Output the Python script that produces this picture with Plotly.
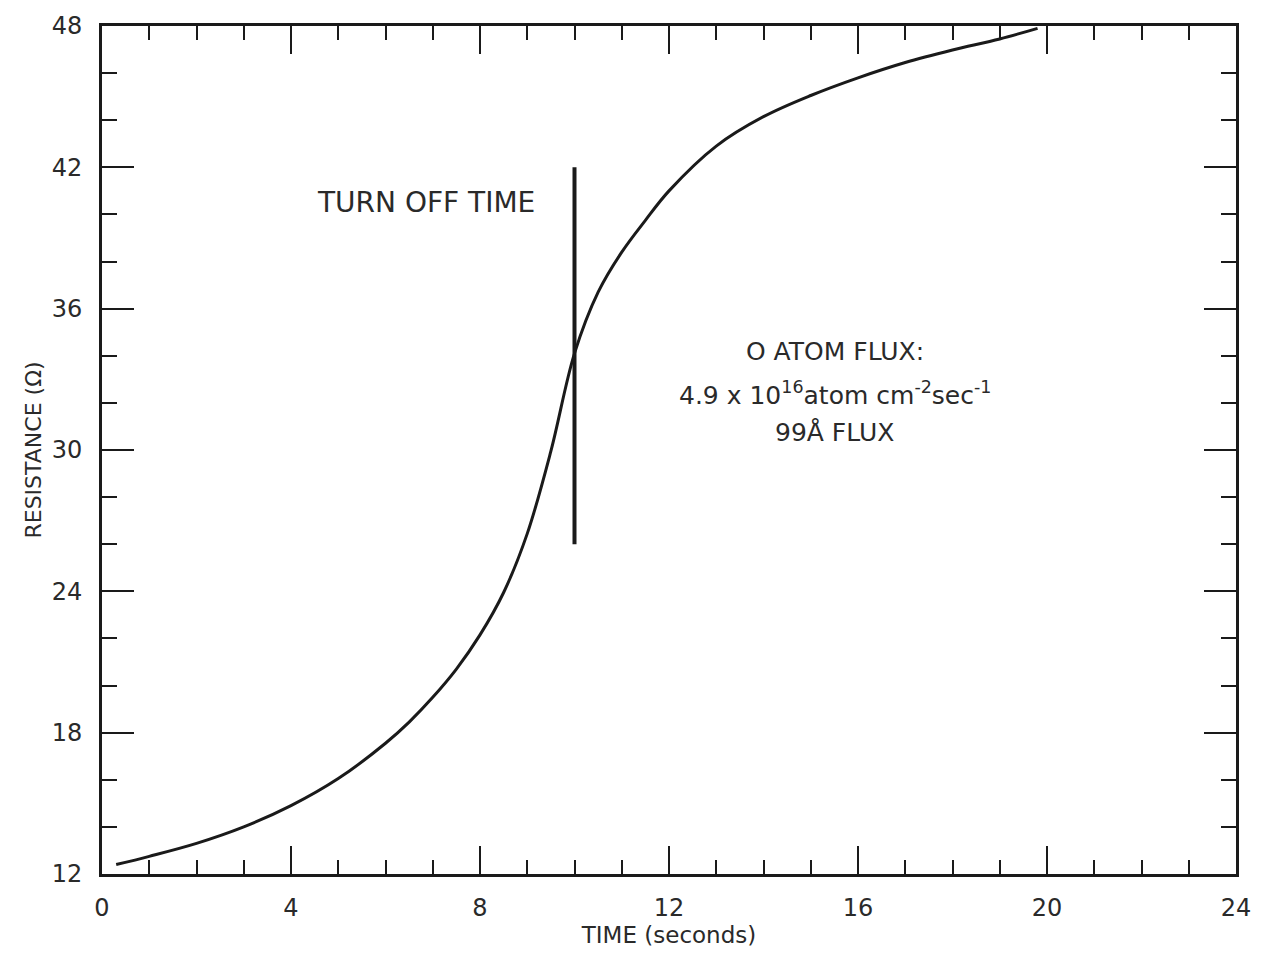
import plotly.graph_objects as go

# Curve data: resistance vs time
time_s = [0.3, 1, 2, 3, 4, 5, 6, 6.5, 7, 7.5, 8, 8.5, 9, 9.5, 10, 10.5, 11, 11.5, 12, 13, 14, 15, 16, 17, 18, 19, 19.8]
resistance = [12.4, 12.75, 13.3, 14.0, 14.9, 16.05, 17.55, 18.45, 19.5, 20.7, 22.15, 23.95, 26.45, 29.95, 34.1, 36.7, 38.4, 39.75, 41.0, 42.9, 44.15, 45.05, 45.8, 46.45, 46.98, 47.45, 47.9]

# Turn-off marker line
turnoff_x = [10, 10]
turnoff_y = [26, 42]

x_ticks = [0, 4, 8, 12, 16, 20, 24]
y_ticks = [12, 18, 24, 30, 36, 42, 48]

FONT = "DejaVu Sans"
INK = "#1a1a1a"
TXT = "#2a2a2a"

fig = go.Figure()
fig.add_trace(go.Scatter(x=time_s, y=resistance, mode="lines",
                         line=dict(color=INK, width=3, shape="spline", smoothing=1.0),
                         showlegend=False, hoverinfo="skip"))
fig.add_trace(go.Scatter(x=turnoff_x, y=turnoff_y, mode="lines",
                         line=dict(color=INK, width=4),
                         showlegend=False, hoverinfo="skip"))

fig.update_layout(
    width=1263, height=954,
    margin=dict(l=102, r=20, t=25, b=79),
    paper_bgcolor="white", plot_bgcolor="white",
    font=dict(family=FONT, color=TXT),
    xaxis=dict(range=[0, 24], tickvals=x_ticks, ticktext=[str(v) for v in x_ticks],
               showgrid=False, zeroline=False, showline=True, linewidth=3, linecolor=INK,
               mirror="allticks", ticks="inside", ticklen=28, tickwidth=2, tickcolor=INK,
               minor=dict(dtick=1, ticks="inside", ticklen=14, tickwidth=2, tickcolor=INK, showgrid=False),
               tickfont=dict(size=24, family=FONT, color=TXT), ticklabelstandoff=10,
               title=dict(text="TIME (seconds)", font=dict(size=23, family=FONT, color=TXT), standoff=4)),
    yaxis=dict(range=[12, 48], tickvals=y_ticks, ticktext=[str(v) for v in y_ticks],
               showgrid=False, zeroline=False, showline=True, linewidth=3, linecolor=INK,
               mirror="allticks", ticks="inside", ticklen=32, tickwidth=2, tickcolor=INK,
               minor=dict(dtick=2, ticks="inside", ticklen=15, tickwidth=2, tickcolor=INK, showgrid=False),
               tickfont=dict(size=24, family=FONT, color=TXT), ticklabelstandoff=12,
               title=dict(text="RESISTANCE (Ω)", font=dict(size=22, family=FONT, color=TXT), standoff=4)),
)

fig.add_annotation(x=6.86, y=40.5, text="TURN OFF TIME", showarrow=False,
                   font=dict(size=28, family=FONT, color=TXT))
fig.add_annotation(x=15.52, y=34.2, text="O ATOM FLUX:", showarrow=False,
                   font=dict(size=25, family=FONT, color=TXT))
fig.add_annotation(x=15.52, y=32.4,
                   text="4.9 x 10<sup>16</sup>atom cm<sup>-2</sup>sec<sup>-1</sup>",
                   showarrow=False, font=dict(size=25, family=FONT, color=TXT))
fig.add_annotation(x=15.5, y=30.75, text="99Å FLUX", showarrow=False,
                   font=dict(size=25, family=FONT, color=TXT))

fig.write_html("out.html")
